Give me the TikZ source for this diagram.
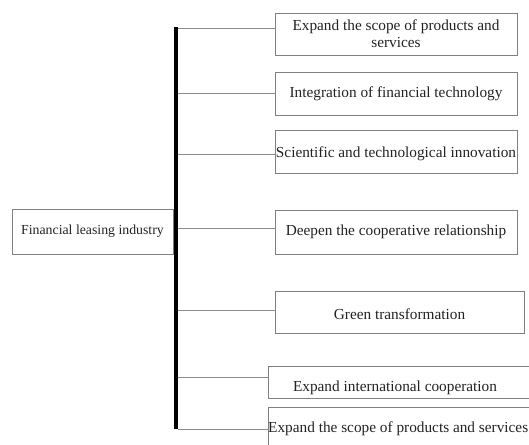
\documentclass[tikz,border=0pt]{standalone}
\usepackage{fontspec}
\setmainfont{Liberation Serif}
\usepackage{tikz}
\usetikzlibrary{calc, positioning}
\definecolor{boxgray}{HTML}{808080}
\definecolor{linegray}{HTML}{8C8C8C}
\definecolor{txtgray}{HTML}{222222}
\tikzstyle{every node}=[text=txtgray]
\tikzstyle{item}=[draw=boxgray, line width=0.9pt, inner sep=0pt, minimum width=242pt, minimum height=43pt, font=\fontsize{15.3}{17}\selectfont, align=center]
\tikzstyle{root}=[item, minimum width=161pt, minimum height=45pt, font=\fontsize{13.8}{16}\selectfont]
\tikzstyle{branch}=[draw=linegray, line width=0.9pt]

\begin{document}
\begin{tikzpicture}[x=1pt, y=-1pt]
		\clip (0,0) rectangle (529,444);
		\useasboundingbox (0,0) rectangle (529,444);

		\node[root] (L) at (92.5,231.5) {Financial leasing industry};
		\node[item, minimum height=42pt] (A) at (396,34) {Expand the scope of products and\\services};
		\node[item] (B) at (396,93.5) {Integration of financial technology};
		\node[item] (C) at (396,151.5) {};
		\node[font=\fontsize{15.3}{17}\selectfont] (Ct) at (396,154) {Scientific and technological innovation};
		\node[item, minimum height=44pt] (D) at (396,232) {Deepen the cooperative relationship};
		\node[item, minimum width=249pt, minimum height=42pt] (E) at (399.5,312) {};
		\node[font=\fontsize{15.3}{17}\selectfont] (Et) at (399.5,314) {Green transformation};
		\node[item, anchor=west, minimum width=275pt, minimum height=32pt] (F) at (268,382.5) {};
		\node[font=\fontsize{15.3}{17}\selectfont] (Ft) at (395,388) {Expand international cooperation};
		\node[item, anchor=north west, minimum width=275pt, minimum height=50pt] (G) at (268,407) {};
		\node[font=\fontsize{15.3}{17}\selectfont, anchor=west, inner sep=0pt] (Gt) at (268,429) {Expand the scope of products and services};

		% trunk
		\coordinate (top) at (176,27);
		\coordinate (bot) at (176,429);
		\draw[black, line width=4pt] (top) -- (bot);

		% branches
		\foreach \y/\n in {28/A, 93/B, 154/C, 228/D, 310/E, 377/F, 429/G}
			\draw[branch] (178,\y) coordinate (j\n) -- (j\n -| \n.west);
\end{tikzpicture}
\end{document}
